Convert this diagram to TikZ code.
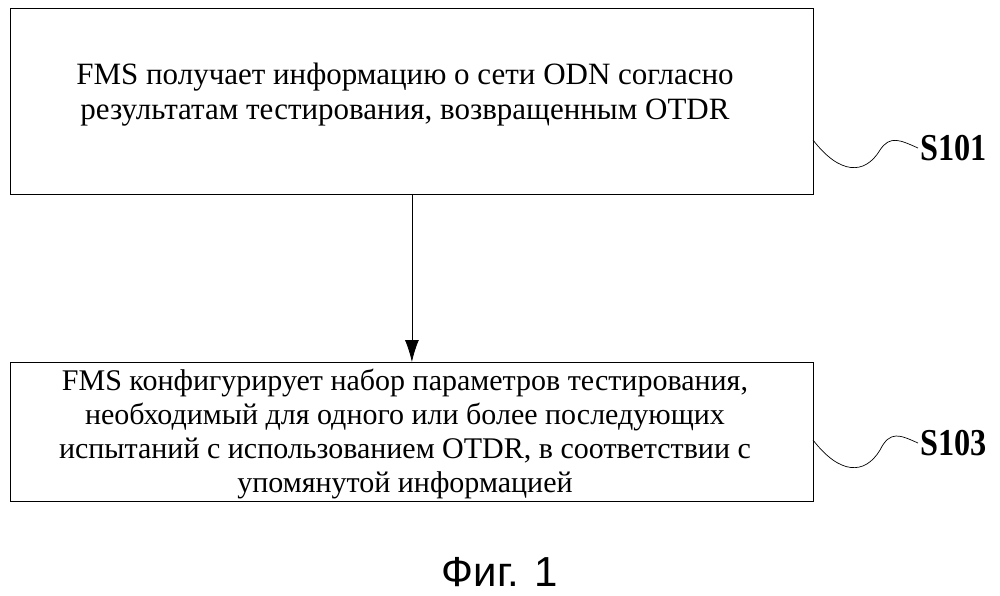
\documentclass[tikz,border=0pt]{standalone}
\usepackage{fontspec}
\usetikzlibrary{arrows.meta}
\setmainfont{Liberation Serif}
\newfontfamily\capfont{Liberation Sans}
\begin{document}
\begin{tikzpicture}[x=1pt,y=-1pt,
  boxst/.style={draw,line width=0.8pt,inner sep=0pt},
  txt/.style={align=center,font=\fontsize{31}{35}\selectfont},
  lab/.style={font=\fontsize{38}{40}\selectfont\bfseries,anchor=west,xscale=0.85,inner sep=0pt},
  wave/.style={line width=0.7pt}]
\useasboundingbox (0,0) rectangle (1000,595);
\node[boxst,minimum width=803pt,minimum height=186pt,anchor=north west] (b1) at (10,8) {};
\node[boxst,minimum width=803pt,minimum height=139pt,anchor=north west] (b2) at (10,362) {};
\node[txt] (t1) at (405,95) {FMS получает информацию о сети ODN согласно\\результатам тестирования, возвращенным OTDR};
\node[txt,font=\fontsize{30}{34}\selectfont] (t2) at (405,434) {FMS конфигурирует набор параметров тестирования,\\необходимый для одного или более последующих\\испытаний с использованием OTDR, в соответствии с\\упомянутой информацией};
\draw[line width=0.8pt,-{Latex[length=22pt,width=14pt]}] (b1.south) -- (b2.north);
\coordinate (w1) at (813,140);
\coordinate (w1e) at (918,148);
\draw[wave] (w1) .. controls (840,175) and (865,175) .. (880,150) .. controls (890,135) and (900,140) .. (w1e);
\node[lab] (s1) at (920,148) {S101};
\coordinate (w2) at (813,440);
\coordinate (w2e) at (918,443);
\draw[wave] (w2) .. controls (840,475) and (865,475) .. (880,450) .. controls (890,430) and (900,435) .. (w2e);
\node[lab] (s2) at (920,443) {S103};
\node[font=\capfont\fontsize{42}{44}\selectfont] (cap) at (500,572) {Фиг. 1};
\end{tikzpicture}
\end{document}
